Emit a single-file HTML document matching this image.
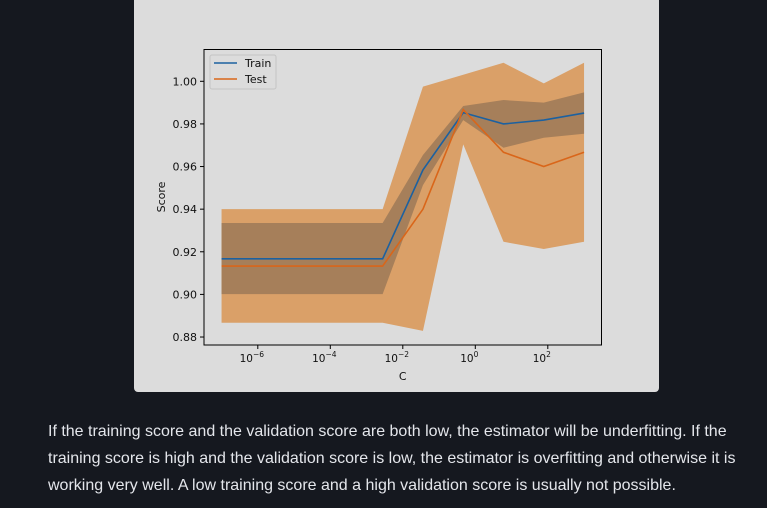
<!DOCTYPE html>
<html><head><meta charset="utf-8"><style>
html,body{margin:0;padding:0;background:#15181f;width:767px;height:508px;overflow:hidden;font-family:"Liberation Sans","DejaVu Sans",sans-serif}
#card{position:absolute;left:134px;top:0;width:525px;height:392px;background:#dcdcdc;border-radius:0 0 4px 4px}
#chart{position:absolute;left:0;top:0}
#para{position:absolute;left:48px;top:418px;margin:0;width:700px;color:#e4e6eb;font-size:16px;line-height:27px}
text{font-family:"DejaVu Sans","Liberation Sans",sans-serif;fill:#111}
</style></head><body>
<div id="card"></div>
<svg id="chart" width="767" height="508"></svg>
<p id="para">If the training score and the validation score are both low, the estimator will be underfitting. If the training score is high and the validation score is low, the estimator is overfitting and otherwise it is working very well. A low training score and a high validation score is usually not possible.</p>
<script>
const logC=[-7,-5.889,-4.778,-3.667,-2.556,-1.444,-0.333,0.778,1.889,3];
const trainMean=[0.9167,0.9167,0.9167,0.9167,0.9167,0.9584,0.9853,0.980,0.9818,0.9851];
const trainUpper=[0.9335,0.9335,0.9335,0.9335,0.9335,0.9654,0.9884,0.9912,0.990,0.9948];
const trainLower=[0.9001,0.9001,0.9001,0.9001,0.9001,0.9513,0.9818,0.9688,0.9735,0.9754];
const testMean=[0.9133,0.9133,0.9133,0.9133,0.9133,0.940,0.9867,0.9667,0.960,0.9667];
const testUpper=[0.940,0.940,0.940,0.940,0.940,0.9975,1.0031,1.0087,0.999,1.0087];
const testLower=[0.8867,0.8867,0.8867,0.8867,0.8867,0.8829,0.9704,0.9247,0.9213,0.9247];
const yTicks=[0.88,0.90,0.92,0.94,0.96,0.98,1.00];
const xTickExp=[-6,-4,-2,0,2];
const NS='http://www.w3.org/2000/svg';
const svg=document.getElementById('chart');
const L=204,R=601.5,T=49.5,B=345;
const X=e=>475.3+(e)*36.25;
const Y=v=>81.3+(1.0-v)*2131;
function mk(tag,attrs,parent){const el=document.createElementNS(NS,tag);for(const k in attrs)el.setAttribute(k,attrs[k]);(parent||svg).appendChild(el);return el;}
function band(up,lo,fill,name){
  let pts=logC.map((c,i)=>X(c)+','+Y(up[i]));
  for(let i=logC.length-1;i>=0;i--)pts.push(X(logC[i])+','+Y(lo[i]));
  const p=mk('polygon',{points:pts.join(' '),fill:fill});
  
  
}
function line(vals,color,name){
  const p=mk('polyline',{points:logC.map((c,i)=>X(c)+','+Y(vals[i])).join(' '),fill:'none',stroke:color,'stroke-width':1.6});
  
  
}
band(testUpper,testLower,'#daa068','test-score-band');
band(trainUpper,trainLower,'#a67f5a','train-score-band');
line(trainMean,'#1c61a0','train-line');
line(testMean,'#d9661a','test-line');
const frame=mk('rect',{x:L,y:T,width:R-L,height:B-T,fill:'none',stroke:'#000','stroke-width':1});


yTicks.forEach(v=>{
  const y=Y(v);
  mk('line',{x1:L-4,x2:L,y1:y,y2:y,stroke:'#000'});
  const t=mk('text',{x:L-7,y:y+4,'text-anchor':'end','font-size':11});
  t.textContent=v.toFixed(2);
  
  
});
xTickExp.forEach(e=>{
  const x=X(e);
  mk('line',{x1:x,x2:x,y1:B,y2:B+4,stroke:'#000'});
  const t=mk('text',{x:x-6,y:B+17,'text-anchor':'middle','font-size':10.5});
  t.textContent='10';
  const s=mk('tspan',{dy:-5,'font-size':7.5},t);
  s.textContent=(e<0?'\u2212':'')+Math.abs(e);
  
  
});
const xl=mk('text',{x:(L+R)/2,y:380,'text-anchor':'middle','font-size':11});
xl.textContent='C';


const yl=mk('text',{x:0,y:0,'text-anchor':'middle','font-size':11,transform:'translate(165,197) rotate(-90)'});
yl.textContent='Score';


const lg=mk('g',{});


mk('rect',{x:210,y:55,width:66,height:34,rx:2,fill:'#dcdcdc',stroke:'#c4c4c4'},lg);
mk('line',{x1:214,x2:237,y1:63,y2:63,stroke:'#1c61a0','stroke-width':1.6},lg);
mk('line',{x1:214,x2:237,y1:79,y2:79,stroke:'#d9661a','stroke-width':1.6},lg);
const t1=mk('text',{x:245,y:67,'font-size':11},lg);t1.textContent='Train';


const t2=mk('text',{x:245,y:83,'font-size':11},lg);t2.textContent='Test';


</script>
</body></html>
